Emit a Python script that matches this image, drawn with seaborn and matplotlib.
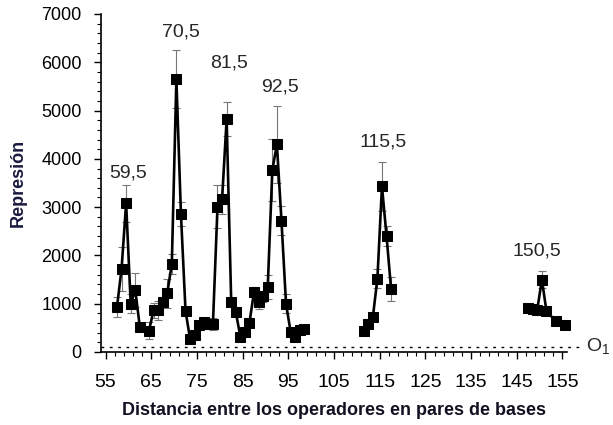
import numpy as np
import pandas as pd
import matplotlib
matplotlib.use("Agg")
import matplotlib.pyplot as plt
import seaborn as sns

# ---- data ----
dist_a = [57.5, 58.5, 59.5, 60.5, 61.5, 62.5, 64.5, 65.5, 66.5, 67.5, 68.5, 69.5,
          70.5, 71.5, 72.5, 73.5, 74.5, 75.5, 76.5, 77.5, 78.5, 79.5, 80.5, 81.5,
          82.5, 83.5, 84.5, 85.5, 86.5, 87.5, 88.5, 89.5, 90.5, 91.5, 92.5, 93.5,
          94.5, 95.5, 96.5, 97.5, 98.5]
rep_a = [930, 1720, 3080, 1000, 1280, 520, 440, 860, 860, 1040, 1220, 1820,
         5650, 2850, 850, 270, 350, 560, 630, 590, 580, 3010, 3160, 4820,
         1040, 830, 320, 420, 610, 1250, 1040, 1150, 1350, 3770, 4300, 2720,
         1000, 420, 320, 450, 480]
err_a = [200, 450, 380, 200, 350, 60, 180, 150, 200, 100, 300, 200,
         600, 250, 60, 60, 60, 80, 80, 80, 120, 450, 300, 350,
         80, 80, 60, 60, 80, 100, 150, 120, 250, 650, 800, 300,
         200, 60, 60, 60, 60]

dist_b = [111.5, 112.5, 113.5, 114.5, 115.5, 116.5, 117.5]
rep_b = [440, 580, 720, 1520, 3430, 2400, 1300]
err_b = [60, 60, 80, 200, 500, 200, 250]

dist_c = [147.5, 148.5, 149.5, 150.5, 151.5, 153.5, 155.5]
rep_c = [920, 900, 880, 1500, 850, 640, 560]
err_c = [60, 60, 60, 180, 80, 60, 60]

peak_labels = ["59,5", "70,5", "81,5", "92,5", "115,5", "150,5"]
peak_label_x = [59.9, 71.5, 82.0, 93.2, 115.7, 149.4]
peak_label_y = [3700, 6620, 5980, 5490, 4350, 2090]

operator_level = 100
operator_label = "O$_1$"

x_ticks = list(range(55, 156, 10))
y_ticks = list(range(0, 7001, 1000))

x_label = "Distancia entre los operadores en pares de bases"
y_label = "Represión"

# ---- build table ----
df = pd.concat([
    pd.DataFrame({"dist": dist_a, "rep": rep_a, "err": err_a, "seg": "a"}),
    pd.DataFrame({"dist": dist_b, "rep": rep_b, "err": err_b, "seg": "b"}),
    pd.DataFrame({"dist": dist_c, "rep": rep_c, "err": err_c, "seg": "c"}),
], ignore_index=True)

sns.set_theme(style="ticks")
plt.rcParams["font.family"] = ["Liberation Sans", "DejaVu Sans"]
plt.rcParams["mathtext.fontset"] = "custom"
plt.rcParams["mathtext.rm"] = "Liberation Sans"
plt.rcParams["mathtext.it"] = "Liberation Sans"

fig = plt.figure(figsize=(6.13, 4.25), dpi=100)
ax = fig.add_axes([101 / 613, 73 / 425, 466 / 613, 338 / 425])

# error bars (thin grey)
ax.errorbar(df["dist"], df["rep"], yerr=df["err"], fmt="none",
            ecolor="#777777", elinewidth=0.8, capsize=3, capthick=0.8, zorder=1)

sns.lineplot(data=df, x="dist", y="rep", units="seg", estimator=None,
             color="black", linewidth=1.9, marker="s", markersize=7,
             markeredgecolor="black", markerfacecolor="black",
             ax=ax, legend=False, zorder=3)
for line in ax.lines:
    line.set_clip_on(False)

# operator dotted level
ax.plot([54, 159.0], [operator_level, operator_level], color="black",
        linestyle=(0, (2, 4)), linewidth=1.0, clip_on=False, zorder=2)
ax.text(160.2, operator_level + 20, operator_label, fontsize=14, ha="left",
        va="center", clip_on=False)

for lab, lx, ly in zip(peak_labels, peak_label_x, peak_label_y):
    ax.text(lx, ly, lab, fontsize=14, ha="center", va="center")

ax.set_xlim(54, 156)
ax.set_ylim(0, 7000)
ax.set_xticks(x_ticks)
ax.set_xticks(np.arange(55, 156, 2), minor=True)
ax.set_yticks(y_ticks)
ax.set_yticks(np.arange(0, 7001, 200), minor=True)
ax.tick_params(axis="both", which="major", length=5,
               width=1, color="black", labelcolor="black", direction="out")
ax.tick_params(axis="x", which="major", labelsize=14, pad=11)
ax.tick_params(axis="y", which="major", labelsize=13, pad=9)
ax.tick_params(axis="both", which="minor", length=3, width=0.8, color="black",
               direction="out")

for s in ["top", "right"]:
    ax.spines[s].set_visible(False)
for s in ["left", "bottom"]:
    ax.spines[s].set_color("black")
    ax.spines[s].set_linewidth(1.2)

ax.set_xlabel(x_label, fontsize=13, fontweight="bold", color="#111122", labelpad=8)
ax.set_ylabel(y_label, fontsize=13, fontweight="bold", color="#1a1a40", labelpad=10)

fig.savefig("out.png", dpi=100, facecolor="white")
